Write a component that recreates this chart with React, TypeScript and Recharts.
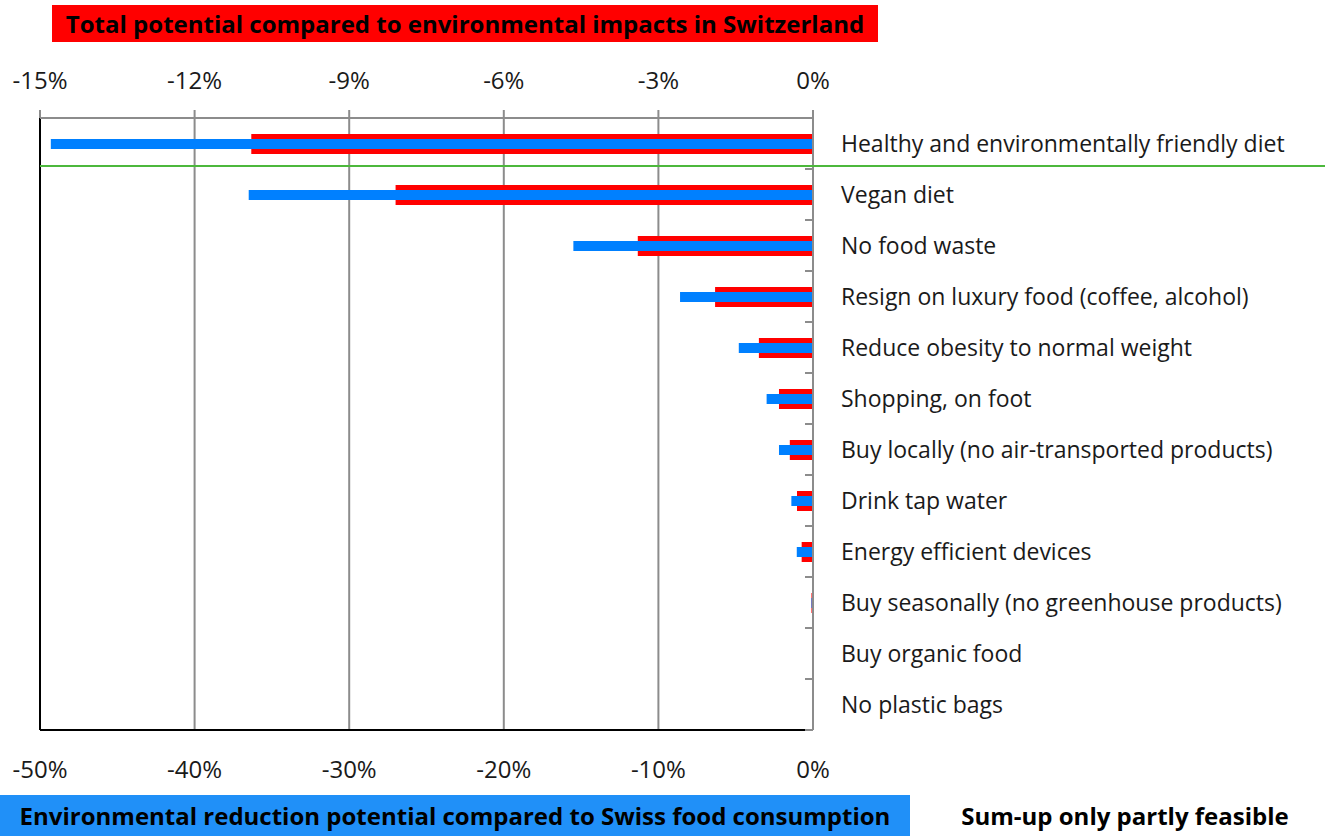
import React from 'react';
import {
  ComposedChart,
  Bar,
  XAxis,
  YAxis,
  CartesianGrid,
  ReferenceLine,
} from 'recharts';

const measures = [
  'Healthy and environmentally friendly diet',
  'Vegan diet',
  'No food waste',
  'Resign on luxury food (coffee, alcohol)',
  'Reduce obesity to normal weight',
  'Shopping, on foot',
  'Buy locally (no air-transported products)',
  'Drink tap water',
  'Energy efficient devices',
  'Buy seasonally (no greenhouse products)',
  'Buy organic food',
  'No plastic bags',
];

// % of total environmental impacts in Switzerland (top axis)
const totalPotential = [-10.9, -8.1, -3.4, -1.9, -1.05, -0.66, -0.45, -0.31, -0.22, -0.03, 0, 0];
// % of Swiss food consumption impacts (bottom axis)
const foodPotential = [-49.3, -36.5, -15.5, -8.6, -4.8, -3.0, -2.2, -1.4, -1.05, -0.1, 0, 0];

const topTicks = [-15, -12, -9, -6, -3, 0];
const bottomTicks = [-50, -40, -30, -20, -10, 0];

const data = measures.map((name, i) => ({
  name,
  total: totalPotential[i],
  food: foodPotential[i],
}));

const FONT = '"Open Sans", Lato, sans-serif';
const GREY = '#8c8c8c';
const TICK_GAP = 28;

const CategoryTick = (props: any) => {
  const { x, y, payload } = props;
  const axisX = x - TICK_GAP;
  const edge = y + (payload.offset || 0);
  return (
    <g>
      <line x1={axisX - 8} x2={axisX} y1={edge} y2={edge} stroke={GREY} strokeWidth={2} />
      <text x={x} y={y} dy="0.36em" textAnchor="start" fill="#1a1a1a" fontSize={23} fontFamily={FONT}>
        {payload.value}
      </text>
    </g>
  );
};

export default function App() {
  return (
    <div style={{ position: 'absolute', left: 0, top: 0, width: 1332, height: 836, background: '#fff', fontFamily: FONT }}>
      <div
        style={{
          position: 'absolute', left: 52, top: 5, width: 826, height: 37, background: '#ff0000',
          color: '#000', fontWeight: 700, fontSize: 24, lineHeight: '37px', textAlign: 'center', whiteSpace: 'nowrap',
        }}
      >
        Total potential compared to environmental impacts in Switzerland
      </div>
      <ComposedChart
        width={1332}
        height={836}
        data={data}
        layout="vertical"
        margin={{ top: 60, right: 7, bottom: 56, left: 40 }}
        barGap={0}
      >
        <CartesianGrid xAxisId="bottom" yAxisId="cat" horizontal={false} stroke={GREY} strokeWidth={2} />
        <XAxis
          xAxisId="top"
          orientation="top"
          type="number"
          domain={[-15, 0]}
          ticks={topTicks}
          height={58}
          tickFormatter={(v: number) => `${v}%`}
          axisLine={{ stroke: GREY, strokeWidth: 2 }}
          tickLine={{ stroke: GREY, strokeWidth: 2 }}
          tickSize={8}
          tickMargin={21}
          tick={{ fontSize: 24, fill: '#1a1a1a', fontFamily: FONT }}
        />
        <XAxis
          xAxisId="bottom"
          orientation="bottom"
          type="number"
          domain={[-50, 0]}
          ticks={bottomTicks}
          height={50}
          tickFormatter={(v: number) => `${v}%`}
          axisLine={{ stroke: '#000', strokeWidth: 2 }}
          tickLine={false}
          tickSize={0}
          tickMargin={31}
          tick={{ fontSize: 24, fill: '#1a1a1a', fontFamily: FONT }}
        />
        <YAxis
          yAxisId="cat"
          type="category"
          dataKey="name"
          orientation="right"
          width={512}
          axisLine={{ stroke: GREY, strokeWidth: 2 }}
          tickLine={false}
          tickSize={0}
          tickMargin={TICK_GAP}
          tick={<CategoryTick />}
          interval={0}
        />
        <YAxis yAxisId="cat2" type="category" dataKey="name" hide />
        <Bar xAxisId="top" yAxisId="cat" dataKey="total" fill="#ff0000" barSize={20} isAnimationActive={false} />
        <Bar xAxisId="bottom" yAxisId="cat2" dataKey="food" fill="#0080ff" barSize={10} isAnimationActive={false} />
        <ReferenceLine xAxisId="bottom" yAxisId="cat" x={-50} stroke="#000" strokeWidth={2} />
      </ComposedChart>
      {/* separator under the first measure, runs through the label column */}
      <div style={{ position: 'absolute', left: 40, top: 165, width: 1285, height: 2, background: '#4cb83c' }} />
      <div
        style={{
          position: 'absolute', left: 0, top: 795, width: 910, height: 41, background: '#2090f8',
          color: '#000', fontWeight: 700, fontSize: 24, lineHeight: '41px', textAlign: 'center', whiteSpace: 'nowrap',
        }}
      >
        Environmental reduction potential compared to Swiss food consumption
      </div>
      <div
        style={{
          position: 'absolute', left: 930, top: 795, width: 390, height: 41,
          color: '#000', fontWeight: 700, fontSize: 24, lineHeight: '41px', textAlign: 'center', whiteSpace: 'nowrap',
        }}
      >
        Sum-up only partly feasible
      </div>
    </div>
  );
}
